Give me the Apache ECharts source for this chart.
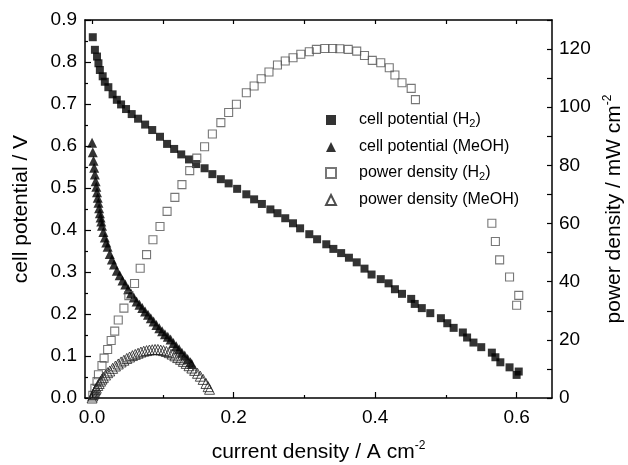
<!DOCTYPE html>
<html>
<head>
<meta charset="utf-8">
<script src="https://cdn.jsdelivr.net/npm/echarts@6/dist/echarts.min.js"></script>
<style>
  html, body { margin: 0; padding: 0; background: #fff; }
  #fuelcell { width: 628px; height: 465px; }
</style>
</head>
<body>
<div id="fuelcell"></div>
<script>
// current density (A cm-2), cell potential (V)
var potentialH2 = [
  [0.001, 0.859], [0.004, 0.829], [0.007, 0.813], [0.009, 0.797], [0.011, 0.781],
  [0.015, 0.766], [0.018, 0.753], [0.023, 0.740], [0.029, 0.723], [0.035, 0.710],
  [0.041, 0.699], [0.048, 0.688], [0.056, 0.676], [0.065, 0.665], [0.075, 0.651],
  [0.085, 0.638], [0.096, 0.622], [0.106, 0.605], [0.116, 0.593], [0.126, 0.580],
  [0.137, 0.568], [0.147, 0.557], [0.159, 0.547], [0.170, 0.533], [0.182, 0.521],
  [0.193, 0.511], [0.205, 0.498], [0.218, 0.485], [0.229, 0.473], [0.240, 0.462],
  [0.252, 0.449], [0.262, 0.440], [0.273, 0.428], [0.284, 0.416], [0.294, 0.404],
  [0.307, 0.390], [0.318, 0.378], [0.331, 0.366], [0.341, 0.355], [0.352, 0.345],
  [0.363, 0.334], [0.374, 0.323], [0.385, 0.308], [0.395, 0.294], [0.408, 0.283],
  [0.419, 0.273], [0.428, 0.259], [0.438, 0.248], [0.451, 0.236], [0.456, 0.224],
  [0.466, 0.214], [0.478, 0.202], [0.493, 0.190], [0.502, 0.178], [0.511, 0.167],
  [0.524, 0.156], [0.530, 0.144], [0.539, 0.132], [0.550, 0.121], [0.565, 0.108],
  [0.570, 0.097], [0.577, 0.085], [0.590, 0.073], [0.603, 0.063], [0.600, 0.055]
];
var potentialMeOH = [
  [0.000, 0.608], [0.001, 0.585], [0.002, 0.565], [0.003, 0.548], [0.004, 0.532],
  [0.005, 0.516], [0.006, 0.503], [0.007, 0.490], [0.008, 0.477], [0.009, 0.465],
  [0.010, 0.452], [0.011, 0.440], [0.012, 0.430], [0.013, 0.420], [0.014, 0.410],
  [0.016, 0.395], [0.018, 0.382], [0.020, 0.370], [0.022, 0.360], [0.025, 0.343],
  [0.028, 0.330], [0.031, 0.318], [0.035, 0.303], [0.039, 0.292], [0.043, 0.280],
  [0.047, 0.270], [0.051, 0.259], [0.055, 0.249], [0.059, 0.239], [0.063, 0.230],
  [0.067, 0.222], [0.071, 0.214], [0.075, 0.206], [0.079, 0.198], [0.083, 0.190],
  [0.087, 0.182], [0.091, 0.174], [0.095, 0.166], [0.099, 0.159], [0.103, 0.152],
  [0.107, 0.146], [0.111, 0.139], [0.115, 0.131], [0.119, 0.123], [0.123, 0.116],
  [0.127, 0.108], [0.131, 0.101], [0.135, 0.093], [0.139, 0.085], [0.141, 0.081]
];
// current density (A cm-2), power density (mW cm-2)
var powerH2 = [
  [0.001, 0.9], [0.004, 3.3], [0.007, 5.7], [0.009, 8.0], [0.014, 11.2],
  [0.017, 13.7], [0.022, 16.7], [0.027, 19.8], [0.032, 23.0], [0.037, 26.8],
  [0.045, 30.9], [0.052, 35.2], [0.060, 39.4], [0.068, 44.6], [0.077, 49.3],
  [0.086, 54.4], [0.096, 59.0], [0.106, 64.2], [0.117, 69.0], [0.127, 73.4],
  [0.138, 78.2], [0.148, 82.5], [0.159, 86.4], [0.170, 90.8], [0.182, 94.7],
  [0.193, 98.2], [0.204, 101.0], [0.218, 105.0], [0.229, 107.3], [0.239, 109.8],
  [0.250, 112.1], [0.262, 114.5], [0.273, 115.9], [0.284, 117.0], [0.295, 118.2],
  [0.307, 119.1], [0.317, 119.9], [0.329, 120.2], [0.340, 120.2], [0.350, 120.1],
  [0.362, 119.9], [0.374, 119.3], [0.385, 117.8], [0.396, 116.1], [0.408, 115.3],
  [0.420, 113.6], [0.428, 111.1], [0.438, 108.4], [0.451, 106.5], [0.457, 102.6],
  [0.565, 60.1], [0.570, 53.8], [0.576, 47.5], [0.590, 41.6], [0.603, 35.3],
  [0.600, 31.9]
];
var powerMeOH = [
  [0.000, 0.0], [0.001, 0.7], [0.002, 1.3], [0.003, 1.9], [0.004, 2.4],
  [0.005, 2.9], [0.006, 3.4], [0.008, 4.3], [0.010, 5.0], [0.012, 5.8],
  [0.014, 6.5], [0.016, 7.1], [0.019, 7.9], [0.022, 8.7], [0.025, 9.3],
  [0.029, 10.2], [0.033, 11.0], [0.037, 11.7], [0.041, 12.4], [0.045, 13.0],
  [0.049, 13.6], [0.053, 14.1], [0.057, 14.6], [0.061, 15.0], [0.065, 15.4],
  [0.069, 15.8], [0.073, 16.1], [0.077, 16.3], [0.081, 16.5], [0.085, 16.6],
  [0.089, 16.7], [0.093, 16.7], [0.097, 16.5], [0.101, 16.3], [0.105, 16.0],
  [0.109, 15.6], [0.113, 15.1], [0.117, 14.5], [0.121, 13.9], [0.125, 13.3],
  [0.129, 12.6], [0.133, 11.9], [0.137, 11.1], [0.141, 10.3], [0.145, 9.5],
  [0.149, 8.5], [0.153, 7.5], [0.157, 6.4], [0.161, 5.0], [0.164, 3.9],
  [0.166, 3.0]
];

var xLabels = [0, 0.2, 0.4, 0.6];
var xMinor = [0.1, 0.3, 0.5];
var xTop = [0, 0.1, 0.2, 0.3, 0.4, 0.5, 0.6];
var rightLabels = [0, 20, 40, 60, 80, 100, 120];

var FONT = '"Liberation Sans", Arial, sans-serif';

var myChart = echarts.init(document.getElementById('fuelcell'));

var nameRich = {
  a: { fontFamily: FONT, fontSize: 21, color: '#000', lineHeight: 24 },
  s: { fontFamily: FONT, fontSize: 12, color: '#000', lineHeight: 12, verticalAlign: 'top' }
};
var legRich = {
  a: { fontFamily: FONT, fontSize: 16, color: '#000', lineHeight: 18 },
  b: { fontFamily: FONT, fontSize: 11, color: '#000', lineHeight: 8, verticalAlign: 'bottom' }
};

function subName(txt) {
  // "(H2)" -> subscript 2
  if (txt.indexOf('(H2)') >= 0) {
    var head = txt.replace('(H2)', '(H');
    return '{a|' + head + '}{b|2}{a|)}';
  }
  return '{a|' + txt + '}';
}

var axisLineStyle = { color: '#000', width: 1.5 };

let option = {
  backgroundColor: '#fff',
  animation: false,
  grid: { left: 85, right: 76, top: 20, bottom: 67, outerBoundsMode: 'none', containLabel: false },
  legend: {
    orient: 'vertical',
    left: 320,
    top: 107,
    itemWidth: 10,
    itemHeight: 10,
    itemGap: 10,
    selectedMode: false,
    formatter: subName,
    textStyle: { rich: legRich, padding: [0, 0, 0, 18] },
    data: [
      { name: 'cell potential (H2)', icon: 'rect' },
      { name: 'cell potential (MeOH)', icon: 'triangle' },
      { name: 'power density (H2)', icon: 'rect' },
      { name: 'power density (MeOH)', icon: 'triangle' }
    ]
  },
  xAxis: [
    {
      type: 'value', position: 'bottom', min: -0.01, max: 0.65,
      name: '{a|current density / A cm}{s|-2}',
      nameLocation: 'middle', nameGap: 42,
      nameTextStyle: { rich: nameRich },
      axisLine: { show: true, onZero: false, lineStyle: axisLineStyle },
      axisTick: { show: true, inside: true, length: 6, customValues: xLabels, lineStyle: { color: '#000', width: 1.2 } },
      axisLabel: {
        customValues: xLabels, margin: 10, color: '#000', fontFamily: FONT, fontSize: 19,
        formatter: function (v) { return v.toFixed(1); }
      },
      splitLine: { show: false }
    },
    {
      type: 'value', position: 'bottom', min: -0.01, max: 0.65,
      axisLine: { show: false, onZero: false },
      axisTick: { show: true, inside: true, length: 3, customValues: xMinor, lineStyle: { color: '#000', width: 1.2 } },
      axisLabel: { show: false },
      splitLine: { show: false }
    },
    {
      type: 'value', position: 'top', min: -0.01, max: 0.65,
      axisLine: { show: true, onZero: false, lineStyle: axisLineStyle },
      axisTick: { show: true, inside: true, length: 4, customValues: xTop, lineStyle: { color: '#000', width: 1.2 } },
      axisLabel: { show: false },
      splitLine: { show: false }
    }
  ],
  yAxis: [
    {
      type: 'value', position: 'left', min: 0, max: 0.9, interval: 0.1,
      name: '{a|cell potential / V}',
      nameLocation: 'middle', nameGap: 52, nameRotate: 90,
      nameTextStyle: { rich: nameRich },
      axisLine: { show: true, onZero: false, lineStyle: axisLineStyle },
      axisTick: { show: true, inside: true, length: 6, lineStyle: { color: '#000', width: 1.2 } },
      minorTick: { show: true, splitNumber: 2, length: 3, lineStyle: { color: '#000', width: 1.2 } },
      axisLabel: {
        margin: 8, color: '#000', fontFamily: FONT, fontSize: 19,
        formatter: function (v) { return v.toFixed(1); }
      },
      splitLine: { show: false }
    },
    {
      type: 'value', position: 'right', min: 0, max: 130, interval: 10,
      name: '{a|power density / mW cm}{s|-2}',
      nameLocation: 'middle', nameGap: 50, nameRotate: 90,
      nameTextStyle: { rich: nameRich },
      axisLine: { show: true, onZero: false, lineStyle: axisLineStyle },
      axisTick: { show: true, inside: true, length: 5, lineStyle: { color: '#000', width: 1.2 } },
      axisLabel: {
        customValues: rightLabels, margin: 7, color: '#000', fontFamily: FONT, fontSize: 19
      },
      splitLine: { show: false }
    }
  ],
  series: [
    {
      name: 'cell potential (H2)', type: 'scatter', xAxisIndex: 0, yAxisIndex: 0,
      symbol: 'rect', symbolSize: 8,
      itemStyle: { color: '#000' },
      data: potentialH2, z: 3
    },
    {
      name: 'cell potential (MeOH)', type: 'scatter', xAxisIndex: 0, yAxisIndex: 0,
      symbol: 'triangle', symbolSize: 10,
      itemStyle: { color: '#000' },
      data: potentialMeOH, z: 3
    },
    {
      name: 'power density (H2)', type: 'scatter', xAxisIndex: 0, yAxisIndex: 1,
      symbol: 'rect', symbolSize: 8,
      itemStyle: { color: 'rgba(0,0,0,0)', borderColor: '#555', borderWidth: 1.1 },
      data: powerH2, z: 4
    },
    {
      name: 'power density (MeOH)', type: 'scatter', xAxisIndex: 0, yAxisIndex: 1,
      symbol: 'triangle', symbolSize: 10,
      itemStyle: { color: 'rgba(255,255,255,0)', borderColor: '#222', borderWidth: 1 },
      data: powerMeOH, z: 4
    }
  ]
};
myChart.setOption(option);
</script>
</body>
</html>
